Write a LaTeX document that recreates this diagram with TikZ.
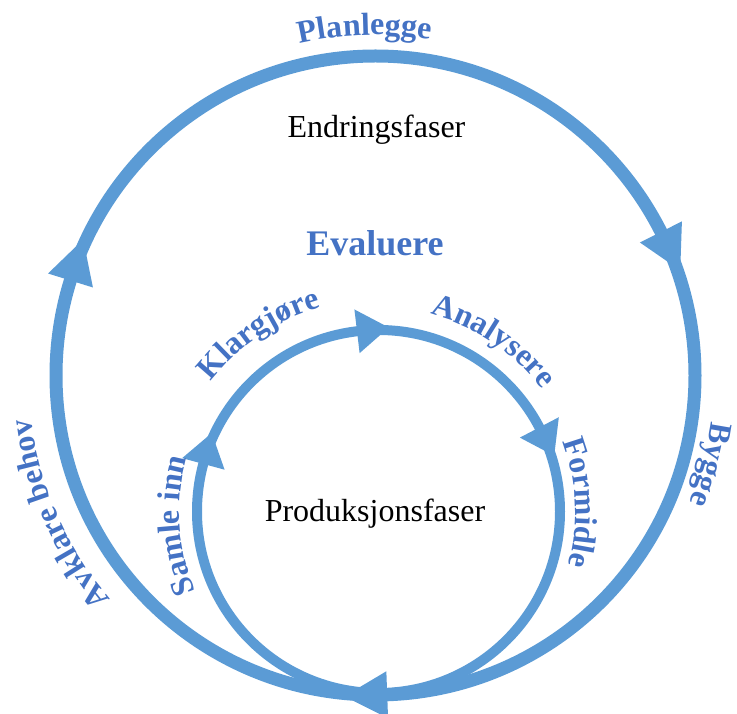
\documentclass[tikz,border=0pt]{standalone}
\usepackage{fontspec}
\setmainfont{Liberation Serif}
\usetikzlibrary{decorations.text}
\definecolor{ringblue}{HTML}{5B9BD5}
\definecolor{labelblue}{HTML}{4472C4}
\tikzset{
  curvlabel/.style={decorate, decoration={text along path, text align=center,
      text color=labelblue, text={|\bfseries\fontsize{32}{38}\selectfont|#1}}},
  plainlabel/.style={anchor=base, font=\fontsize{32}{38}\selectfont, text=black},
}
\begin{document}
\begin{tikzpicture}[x=1pt,y=1pt]
\useasboundingbox (0,0) rectangle (737,713);
\clip (0,0) rectangle (737,713);
\coordinate (O) at (375.5,337.5);
\coordinate (I) at (378.5,201.5);
% rings
\draw[ringblue, line width=13] (O) circle (319.5);
\draw[ringblue, line width=10] (I) circle (181.5);
% outer arrowheads (clockwise)
\foreach \a in {162.7,26.7,-87.9}{
  \fill[ringblue, shift={(O)}, rotate=\a] (296,0) -- (343,0) -- (319.5,-43) -- cycle;
}
% inner arrowheads (clockwise)
\foreach \a in {96.8,164.8,27.6}{
  \fill[ringblue, shift={(I)}, rotate=\a] (159.5,0) -- (203.5,0) -- (181.5,-32) -- cycle;
}
% straight texts
\node[plainlabel] (endr) at (376.5,575) {Endringsfaser};
\node[anchor=base, font=\bfseries\fontsize{36}{43}\selectfont, text=labelblue] (eval) at (375,457) {Evaluere};
\node[plainlabel] (prod) at (375,191) {Produksjonsfaser};
% curved outer labels
\path[curvlabel=Planlegge] (O) ++(131.8:340.5) arc[start angle=131.8, end angle=51.8, radius=340.5];
\path[curvlabel=Bygge] (O) ++(25.1:339) arc[start angle=25.1, end angle=-54.9, radius=339];
\path[curvlabel={Avklare behov}] (O) ++(243.7:347) arc[start angle=243.7, end angle=163.7, radius=347];
% curved inner labels
\path[curvlabel=Klargjøre] (I) ++(164:212) arc[start angle=164, end angle=84, radius=212];
\path[curvlabel=Analysere] (I) ++(96:204) arc[start angle=96, end angle=16, radius=204];
\path[curvlabel=Formidle] (I) ++(42.5:197) arc[start angle=42.5, end angle=-37.5, radius=197];
\path[curvlabel={Samle inn}] (I) ++(224:199) arc[start angle=224, end angle=144, radius=199];
\end{tikzpicture}
\end{document}
